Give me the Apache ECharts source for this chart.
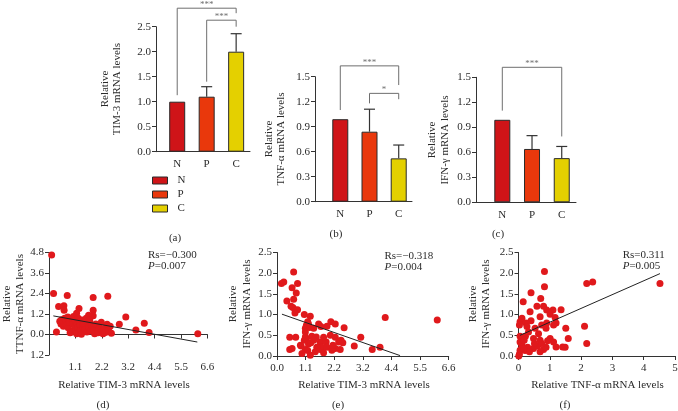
<!DOCTYPE html>
<html><head><meta charset="utf-8">
<script src="https://cdn.jsdelivr.net/npm/echarts@6/dist/echarts.min.js"></script>
<style>html,body{margin:0;padding:0;background:#fff}#c{width:678px;height:411px}</style>
</head><body><div id="c"></div>
<script>
// ---------- data ----------
const groups = ['N', 'P', 'C'];
const barColors = ['#cf1418', '#e9380c', '#e4d000'];
const tim3Mean = [1.0, 1.1, 2.0];
const tim3Upper = [1.0, 1.3, 2.36];
const tnfMean = [0.99, 0.84, 0.52];
const tnfUpper = [0.99, 1.11, 0.68];
const ifnMean = [0.99, 0.64, 0.53];
const ifnUpper = [0.99, 0.80, 0.67];
// brackets: [fromGroup, toGroup, lineY, leftLegEndY, rightLegEndY]
const tim3Sig = [[1, 3, 2.87, 1.13, 2.77], [2, 3, 2.63, 1.40, 2.50]];
const tim3SigLabels = ['***', '***'];
const tnfSig = [[1, 3, 1.63, 1.10, 1.40], [2, 3, 1.30, 1.18, 1.23]];
const tnfSigLabels = ['***', '*'];
const ifnSig = [[1, 3, 1.62, 1.10, 0.79]];
const ifnSigLabels = ['***'];

const barYTicks05 = ['0.0', '0.5', '1.0', '1.5', '2.0', '2.5'];
const barYTicks03 = ['0.0', '0.3', '0.6', '0.9', '1.2', '1.5'];
const dXTickLabels = ['', '1.1', '2.2', '3.2', '4.4', '5.5', '6.6'];
const eXTickLabels = ['0.0', '1.1', '2.2', '3.2', '4.4', '5.5', '6.6'];
const dYTickLabels = ['1.2', '0.0', '1.2', '2.4', '3.6', '4.8'];
const efYTickLabels = ['0.0', '0.5', '1.0', '1.5', '2.0', '2.5'];
const fXTickLabels = ['0', '1', '2', '3', '4', '5'];

// (d) TIM-3 vs TNF-alpha
const dX = [0.11,0.19,0.76,1.84,2.45,0.40,0.62,0.63,1.25,1.84,1.84,1.65,0.31,0.45,0.50,0.52,0.58,0.60,0.65,0.70,0.72,0.78,0.80,0.85,0.88,0.92,0.98,1.00,1.02,1.05,1.08,1.10,1.12,1.15,1.15,1.18,1.20,1.22,1.25,1.28,1.30,1.32,1.35,1.38,1.40,1.45,1.50,1.55,1.58,1.60,1.65,1.70,1.72,1.78,1.85,1.90,1.95,2.05,2.10,2.18,2.22,2.25,2.30,2.35,2.42,2.48,2.55,2.60,2.93,3.20,3.62,3.97,4.17,6.20];
const dY = [4.66,2.40,2.28,2.16,2.24,1.64,1.68,1.42,1.52,1.42,1.10,1.12,0.14,0.78,0.62,0.86,0.70,0.48,0.95,0.80,0.55,1.02,0.40,0.72,0.10,0.15,0.90,0.62,1.05,0.30,0.48,0.80,0.20,0.05,1.25,0.62,0.40,0.95,0.10,0.70,0.55,0.25,0.02,0.85,0.48,0.60,0.30,0.95,0.15,0.70,0.42,0.85,0.20,0.55,0.30,0.05,0.62,0.10,0.40,0.72,0.20,0.05,0.35,0.12,0.60,0.25,0.48,0.08,0.60,1.02,0.27,0.66,0.11,0.05];
const dFit = [[0.18, 1.09], [6.18, -0.44]];

// (e) TIM-3 vs IFN-gamma
const eX = [0.17,0.26,0.64,0.58,0.79,0.74,0.64,0.38,0.54,0.61,0.70,0.79,0.69,1.05,1.28,1.18,1.13,1.21,1.09,1.25,1.41,1.60,1.69,1.92,2.07,2.24,2.58,4.16,6.16,0.49,0.72,0.49,0.58,0.93,1.05,1.13,1.09,1.18,1.21,1.34,1.51,1.66,1.66,1.73,1.89,1.92,2.05,2.24,2.24,2.37,2.46,2.53,2.43,2.97,3.22,3.66,3.96,1.28,0.96,1.47,1.79,2.11,1.09,1.30,1.53,1.09,0.90,1.41,1.79,2.15];
const eY = [1.75,1.79,2.03,1.65,1.75,1.52,1.37,1.33,1.20,1.17,1.11,1.12,1.04,1.00,0.96,0.83,0.74,0.77,0.67,0.69,0.67,0.77,0.71,0.72,0.83,0.77,0.68,0.93,0.87,0.45,0.45,0.16,0.18,0.24,0.38,0.42,0.16,0.13,0.29,0.48,0.46,0.34,0.16,0.21,0.34,0.21,0.50,0.45,0.18,0.34,0.38,0.32,0.16,0.24,0.45,0.16,0.21,0.02,0.06,0.10,0.08,0.14,0.46,0.32,0.21,0.58,0.26,0.38,0.45,0.26];
const eFit = [[0.19, 1.01], [4.73, 0.01]];

// (f) TNF-alpha vs IFN-gamma
const fX = [0.83,0.83,0.40,0.71,0.15,0.59,0.80,0.90,1.10,1.36,0.37,1.01,0.69,0.40,0.90,1.20,0.74,1.12,0.88,1.51,2.11,0.05,0.11,0.03,0.24,0.27,0.53,0.05,0.22,0.48,0.69,1.01,1.12,1.59,2.18,1.20,1.41,1.49,0.11,0.29,0.48,0.61,0.80,0.88,0.05,0.21,0.35,0.69,0.03,0.01,2.18,2.37,4.52,0.16,0.93,0.32,0.64,0.05,0.51,0.74,0.18,1.17];
const fY = [2.04,1.67,1.53,1.39,1.31,1.20,1.20,1.11,1.11,1.12,1.07,1.01,0.95,0.85,0.80,0.80,0.75,0.75,0.67,0.67,0.72,0.83,0.91,0.75,0.80,0.71,0.67,0.48,0.48,0.42,0.38,0.42,0.34,0.42,0.30,0.22,0.22,0.21,0.26,0.21,0.18,0.24,0.16,0.21,0.14,0.13,0.10,0.10,0.05,0.00,1.75,1.79,1.75,0.18,0.37,0.58,0.54,0.34,0.30,0.30,0.38,0.93];
const fFit = [[0.05, 0.50], [4.52, 1.99]];

// ---------- helpers ----------
const FONT = '"Liberation Serif","DejaVu Serif",serif';
const AX = '#333';
const TXT = '#2b2b2b';
const zip = (xs, ys) => xs.map((x, i) => [x, ys[i]]);
const idxLabel = (labels, start, step) => v => {
  const k = Math.round((v - start) / step);
  return (Math.abs(v - (start + k * step)) < 1e-6 && labels[k] !== undefined) ? labels[k] : '';
};

function yAxis(grid, min, max, interval, labels) {
  return {
    type: 'value', gridIndex: grid, min, max, interval,
    axisLine: { show: true, onZero: false, lineStyle: { color: AX, width: 1 } },
    axisTick: { show: true, inside: false, length: 4, lineStyle: { color: AX } },
    axisLabel: { show: true, margin: 5, color: TXT, fontFamily: FONT, fontSize: 11,
      formatter: idxLabel(labels, min, interval) },
    splitLine: { show: false }
  };
}
function barXAxis(grid, min, max) {
  return {
    type: 'value', gridIndex: grid, min, max,
    axisLine: { show: true, onZero: false, lineStyle: { color: AX, width: 1 } },
    axisTick: { show: false },
    splitLine: { show: false },
    axisLabel: { show: true, margin: 7, color: TXT, fontFamily: FONT, fontSize: 11,
      customValues: [1, 2, 3],
      formatter: idxLabel(groups, 1, 1) }
  };
}
function scatterXAxis(grid, min, max, interval, labels) {
  return {
    type: 'value', gridIndex: grid, min, max, interval,
    axisLine: { show: true, onZero: true, lineStyle: { color: AX, width: 1 } },
    axisTick: { show: true, inside: false, length: 4, lineStyle: { color: AX } },
    axisLabel: { show: true, margin: 7, color: TXT, fontFamily: FONT, fontSize: 11,
      formatter: idxLabel(labels, min, interval) },
    splitLine: { show: false }
  };
}

function barSeries(grid, means) {
  return groups.map((g, i) => ({
    type: 'bar', name: g, xAxisIndex: grid, yAxisIndex: grid,
    data: [[i + 1, means[i]]], barWidth: 16, barGap: '-100%',
    itemStyle: { color: barColors[i], borderColor: '#2a2a2a', borderWidth: 1 },
    emphasis: { disabled: true }, z: 2
  }));
}
function errSeries(grid, means, uppers) {
  return {
    type: 'custom', xAxisIndex: grid, yAxisIndex: grid, z: 4, clip: false,
    data: groups.map((g, i) => [i + 1, means[i], uppers[i]]),
    encode: { x: 0, y: [1, 2] },
    renderItem: (params, api) => {
      const x = api.value(0), lo = api.value(1), hi = api.value(2);
      if (!(hi > lo + 1e-9)) return null;
      const p0 = api.coord([x, lo]), p1 = api.coord([x, hi]);
      const st = { stroke: '#333', lineWidth: 1.2 };
      return { type: 'group', children: [
        { type: 'line', shape: { x1: p0[0], y1: p0[1], x2: p1[0], y2: p1[1] }, style: st },
        { type: 'line', shape: { x1: p1[0] - 5.5, y1: p1[1], x2: p1[0] + 5.5, y2: p1[1] }, style: st }
      ] };
    }
  };
}
function sigSeries(grid, sig, labels) {
  return {
    type: 'custom', xAxisIndex: grid, yAxisIndex: grid, z: 5, clip: false,
    data: sig, encode: { x: [0, 1], y: [2, 3, 4] },
    renderItem: (params, api) => {
      const a = api.value(0), b = api.value(1), yl = api.value(2), ya = api.value(3), yb = api.value(4);
      const pa = api.coord([a, ya]), t1 = api.coord([a, yl]), t2 = api.coord([b, yl]), pb = api.coord([b, yb]);
      return { type: 'group', children: [
        { type: 'polyline', shape: { points: [pa, t1, t2, pb] }, style: { stroke: '#6e6e6e', lineWidth: 1, fill: null } },
        { type: 'text', x: (t1[0] + t2[0]) / 2, y: t1[1] - 3.5,
          style: { text: labels[params.dataIndex], align: 'center', verticalAlign: 'middle', fill: '#6e6e6e', font: '9px ' + FONT } }
      ] };
    }
  };
}
function scatterSeries(grid, xs, ys) {
  return { type: 'scatter', xAxisIndex: grid, yAxisIndex: grid, data: zip(xs, ys),
    symbolSize: 7, itemStyle: { color: '#e0191c', opacity: 1 }, emphasis: { disabled: true }, z: 2 };
}
function fitSeries(grid, pts) {
  return { type: 'line', xAxisIndex: grid, yAxisIndex: grid, data: pts, symbol: 'none',
    lineStyle: { color: '#222', width: 1 }, z: 3, silent: true };
}

function txt(x, y, text, opts) {
  return Object.assign({ type: 'text', x, y, silent: true,
    style: Object.assign({ text, align: 'center', verticalAlign: 'middle', fill: TXT, font: '11px ' + FONT }, (opts && opts.style) || {}) },
    (opts && opts.el) || {});
}
const ROT = { el: { rotation: Math.PI / 2 } };
function stat(x, y1, y2, rs, p) {
  return [
    txt(x, y1, rs, { style: { align: 'left' } }),
    { type: 'text', x, y: y2, silent: true, style: { text: '{i|P}=' + p, align: 'left', verticalAlign: 'middle', fill: TXT, font: '11px ' + FONT,
      rich: { i: { fontStyle: 'italic', fontFamily: FONT, fontSize: 11, fill: TXT } } } }
  ];
}

const grids = [
  { left: 156, top: 26.7, width: 94, height: 125 },
  { left: 315, top: 76.7, width: 97, height: 125 },
  { left: 476, top: 77.3, width: 100, height: 125 },
  { left: 49, top: 252.5, width: 158.4, height: 102.5 },
  { left: 277, top: 252.5, width: 171.7, height: 103.5 },
  { left: 518.5, top: 252.5, width: 156.5, height: 103.5 }
].map(g => Object.assign({ outerBoundsMode: 'none', containLabel: false }, g));

const option = {
  animation: false,
  backgroundColor: '#fff',
  grid: grids,
  xAxis: [
    barXAxis(0, 0.28, 3.47),
    barXAxis(1, 0.134, 3.455),
    barXAxis(2, 0.115, 3.48),
    scatterXAxis(3, 0, 6.6, 1.1, dXTickLabels),
    scatterXAxis(4, 0, 6.6, 1.1, eXTickLabels),
    scatterXAxis(5, 0, 5, 1, fXTickLabels)
  ],
  yAxis: [
    yAxis(0, 0, 2.5, 0.5, barYTicks05),
    yAxis(1, 0, 1.5, 0.3, barYTicks03),
    yAxis(2, 0, 1.5, 0.3, barYTicks03),
    yAxis(3, -1.2, 4.8, 1.2, dYTickLabels),
    yAxis(4, 0, 2.5, 0.5, efYTickLabels),
    yAxis(5, 0, 2.5, 0.5, efYTickLabels)
  ],
  legend: {
    data: groups, orient: 'vertical', left: 152, top: 175, itemWidth: 15, itemHeight: 7, itemGap: 3,
    icon: 'rect', selectedMode: false, padding: 0,
    itemStyle: { borderColor: '#2a2a2a', borderWidth: 1 },
    textStyle: { fontFamily: FONT, fontSize: 11, color: TXT, padding: [0, 0, 0, 5] }
  },
  series: [
    ...barSeries(0, tim3Mean), errSeries(0, tim3Mean, tim3Upper), sigSeries(0, tim3Sig, tim3SigLabels),
    ...barSeries(1, tnfMean), errSeries(1, tnfMean, tnfUpper), sigSeries(1, tnfSig, tnfSigLabels),
    ...barSeries(2, ifnMean), errSeries(2, ifnMean, ifnUpper), sigSeries(2, ifnSig, ifnSigLabels),
    scatterSeries(3, dX, dY), fitSeries(3, dFit),
    scatterSeries(4, eX, eY), fitSeries(4, eFit),
    scatterSeries(5, fX, fY), fitSeries(5, fFit)
  ],
  graphic: [
    // y-axis titles
    txt(105, 89, 'Relative', ROT), txt(117, 89, 'TIM-3 mRNA levels', ROT),
    txt(269, 139, 'Relative', ROT), txt(281, 139, 'TNF-α mRNA levels', ROT),
    txt(432, 140, 'Relative', ROT), txt(445, 140, 'IFN-γ mRNA levels', ROT),
    txt(7, 304, 'Relative', ROT), txt(20, 304, 'TTNF-α mRNA levels', ROT),
    txt(233, 304, 'Relative', ROT), txt(247, 304, 'IFN-γ mRNA levels', ROT),
    txt(473, 304, 'Relative', ROT), txt(486.5, 304, 'IFN-γ mRNA levels', ROT),
    // x-axis titles
    txt(124, 385, 'Relative TIM-3 mRNA levels'),
    txt(364, 385, 'Relative TIM-3 mRNA levels'),
    txt(597.5, 385, 'Relative TNF-α mRNA levels'),
    // panel labels
    txt(175, 238, '(a)'), txt(336, 234, '(b)'), txt(498, 234, '(c)'),
    txt(103, 405, '(d)'), txt(338, 405, '(e)'), txt(565, 405, '(f)'),
    // statistics
    ...stat(148, 255, 266, 'Rs=−0.300', '0.007'),
    ...stat(384.5, 256.5, 267.5, 'Rs=−0.318', '0.004'),
    ...stat(622.7, 255.5, 266.5, 'Rs=0.311', '0.005')
  ]
};
const chart = echarts.init(document.getElementById('c'), null, { renderer: 'canvas' });
chart.setOption(option);
</script>
</body></html>
